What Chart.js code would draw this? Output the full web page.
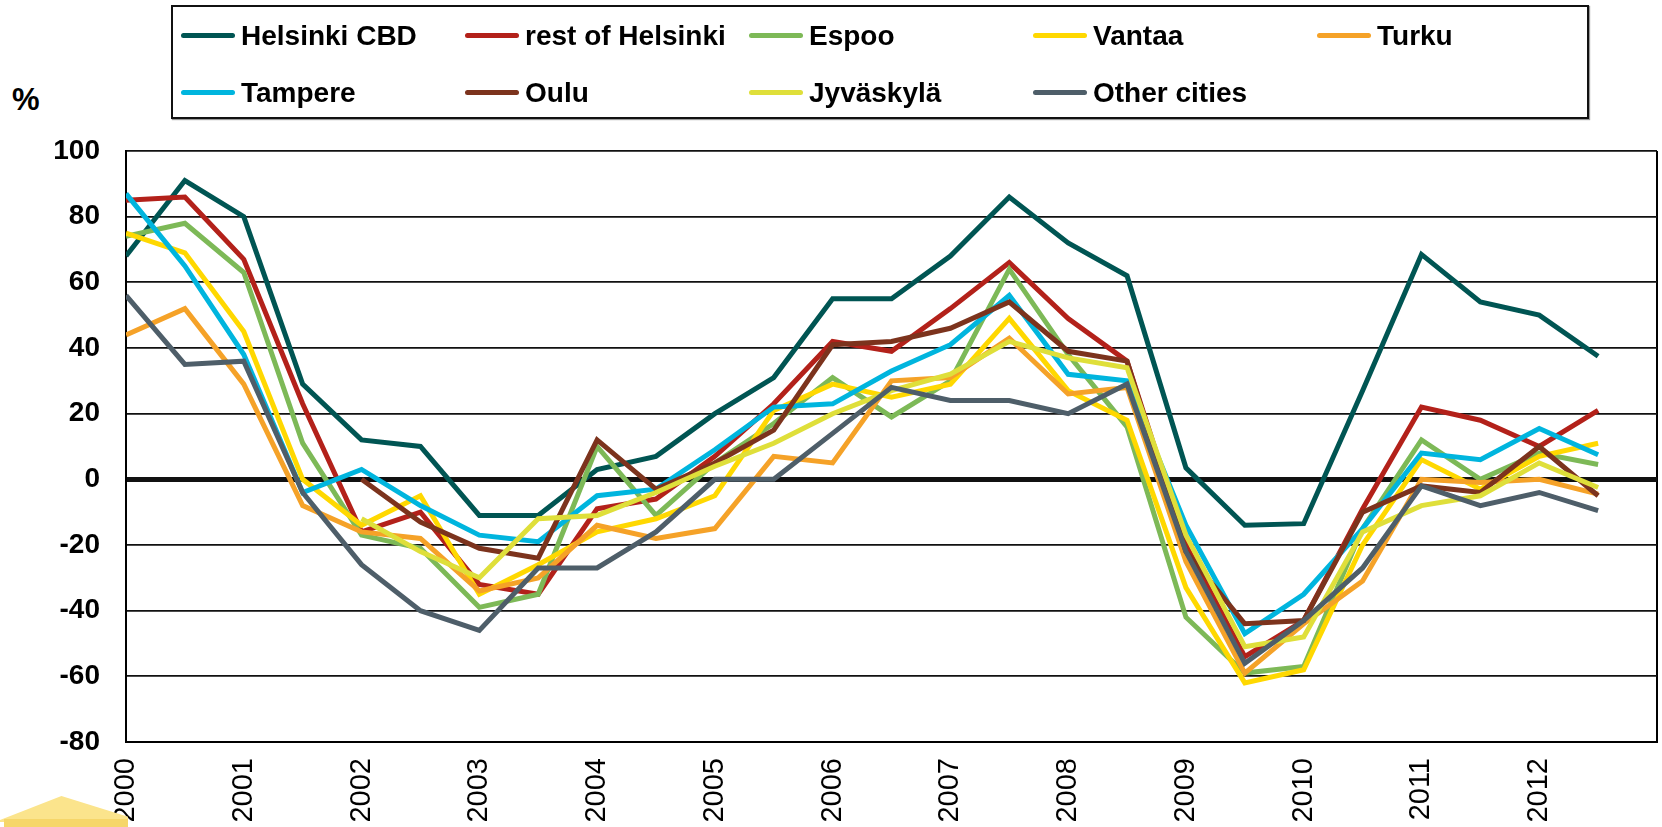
<!DOCTYPE html>
<html>
<head>
<meta charset="utf-8">
<script src="https://cdn.jsdelivr.net/npm/chart.js@4"></script>
<style>
    html, body { margin: 0; padding: 0; background: #fff; }
    body { width: 1662px; height: 827px; position: relative; overflow: hidden; font-family: 'Liberation Sans', Arial, sans-serif; }
    #chartWrap { position: absolute; left: 0; top: 0; width: 1662px; height: 827px; }
    #legend {
        position: absolute; left: 171px; top: 5px; width: 1406px; height: 110px;
        border: 2px solid #111; box-shadow: 1px 1px 1px #999;
        display: grid; grid-template-columns: repeat(5, 284px); grid-auto-rows: 57px;
        padding-left: 8px; box-sizing: content-box;
    }
    .item { display: flex; align-items: center; font-weight: bold; font-size: 28px; color: #000; white-space: nowrap; }
    .swatch { width: 54px; height: 5px; border-radius: 3px; margin-right: 6px; flex: none; }
    #pct { position: absolute; left: 12px; top: 82px; font-size: 31px; font-weight: bold; }
    #logoTop { position: absolute; left: 0; top: 796px; width: 128px; height: 26px; background: #fbe48c;
        clip-path: polygon(0 92%, 48% 0, 100% 80%, 100% 100%, 0 100%); }
    #logoFront { position: absolute; left: 4px; top: 819px; width: 124px; height: 8px; background: #f6d669; }
</style>
</head>
<body>
<div id="pct">%</div>
<div id="chartWrap"><canvas id="priceChart" width="1662" height="827"></canvas></div>
<div id="legend"></div>
<div id="logoTop"></div>
<div id="logoFront"></div>
<script>
const periods = [2000, 2000.5, 2001, 2001.5, 2002, 2002.5, 2003, 2003.5, 2004, 2004.5, 2005, 2005.5, 2006,
    2006.5, 2007, 2007.5, 2008, 2008.5, 2009, 2009.5, 2010, 2010.5, 2011, 2011.5, 2012, 2012.5];

const helsinkiCbd = [68, 91, 80, 29, 12, 10, -11, -11, 3, 7, 20, 31, 55, 55, 68, 86, 72, 62, 3.5, -14, -13.5, 27, 68.5, 54, 50, 37.5];
const restOfHelsinki = [85, 86, 67, 23, -16, -10, -32, -35, -9, -6, 7, 23, 42, 39, 52, 66, 49, 36, -20, -54, -43, -9, 22, 18, 10, 21];
const espoo = [74, 78, 63, 11, -17, -21, -39, -35, 10, -11, 5, 17, 31, 19, 30, 64, 38, 16, -42, -59, -57, -15, 12, 0, 8, 4.5];
const vantaa = [75, 69, 45, 0, -14, -5, -35, -26, -16, -12, -5, 21, 29, 25, 29, 49, 27, 18, -33, -62, -58, -20, 6, -3, 7, 11];
const turku = [44, 52, 29, -8, -16, -18, -34, -30, -14, -18, -15, 7, 5, 30, 31, 43, 26, 28, -25, -59, -44, -31, 0, -1, 0, -4.5];
const tampere = [87, 65, 38, -4, 3, -8, -17, -19, -5, -3, 9, 22, 23, 33, 41, 56, 32, 30, -14, -47, -35, -15, 8, 6, 15.5, 7.5];
const oulu = [null, null, null, null, 0, -13, -21, -24, 12, -3, 5, 15, 41, 42, 46, 54, 39, 36, -22, -44, -43, -10, -2, -4, 10, -5];
const jyvaskyla = [null, null, null, null, -12, -22, -30, -12, -11, -4, 4, 11, 20, 27, 32, 42, 37, 34, -17, -51, -48, -16, -8, -5, 5, -2.5];
const otherCities = [56, 35, 36, -4, -26, -40, -46, -27, -27, -16, 0, 0, 14, 28, 24, 24, 20, 29, -22, -56, -43, -27, -2, -8, -4, -9.5];

const yTicks = [-80, -60, -40, -20, 0, 20, 40, 60, 80, 100];

const series = [
    { label: 'Helsinki CBD', data: helsinkiCbd, color: '#005553' },
    { label: 'rest of Helsinki', data: restOfHelsinki, color: '#b3211a' },
    { label: 'Espoo', data: espoo, color: '#7db957' },
    { label: 'Vantaa', data: vantaa, color: '#ffd800' },
    { label: 'Turku', data: turku, color: '#f5a228' },
    { label: 'Tampere', data: tampere, color: '#00b5de' },
    { label: 'Oulu', data: oulu, color: '#7c331d' },
    { label: 'Jyväskylä', data: jyvaskyla, color: '#dfdf3a' },
    { label: 'Other cities', data: otherCities, color: '#4e5e69' }
];

const ctx = document.getElementById('priceChart');
const chart = new Chart(ctx, {
    type: 'line',
    data: {
        datasets: series.map((s, i) => ({
            label: s.label,
            data: periods.map((p, j) => ({ x: p, y: s.data[j] })),
            borderColor: s.color,
            backgroundColor: s.color,
            borderWidth: 5,
            pointRadius: 0,
            tension: 0,
            spanGaps: false,
            order: series.length - i
        }))
    },
    options: {
        responsive: false,
        animation: false,
        layout: { padding: { top: 151, right: 5, bottom: 0, left: 0 } },
        plugins: {
            legend: { display: false },
            tooltip: { enabled: false }
        },
        scales: {
            x: {
                type: 'linear',
                min: 2000,
                max: 2013,
                afterFit: (scale) => {
                    scale.height = 85;
                    scale.paddingLeft = 0;
                    scale.paddingRight = 0;
                },
                afterBuildTicks: (scale) => {
                    scale.ticks = [];
                    for (let y = 2000; y <= 2013; y++) scale.ticks.push({ value: y });
                },
                ticks: {
                    autoSkip: false,
                    minRotation: 90,
                    maxRotation: 90,
                    padding: 16,
                    color: '#000',
                    font: { family: "'Liberation Sans', Arial, sans-serif", size: 29 },
                    callback: (v) => v === 2013 ? '' : String(v)
                },
                grid: {
                    drawTicks: false,
                    lineWidth: 2,
                    color: (c) => c.tick && c.tick.value === 2013 ? '#000' : 'rgba(0,0,0,0)'
                },
                border: { display: true, color: '#000', width: 2 }
            },
            y: {
                min: -80,
                max: 100,
                afterFit: (scale) => { scale.width = 126; },
                afterBuildTicks: (scale) => { scale.ticks = yTicks.map(v => ({ value: v })); },
                ticks: {
                    padding: 26,
                    color: '#000',
                    font: { family: "'Liberation Sans', Arial, sans-serif", size: 28, weight: 'bold' }
                },
                grid: {
                    drawTicks: false,
                    color: '#111',
                    lineWidth: (c) => c.tick && c.tick.value === 0 ? 5 : 1.8
                },
                border: { display: true, color: '#000', width: 2 }
            }
        }
    }
});

// legend drawn as html, two rows of five columns
const legendEl = document.getElementById('legend');
series.forEach((s) => {
    const item = document.createElement('div');
    item.className = 'item';
    const sw = document.createElement('span');
    sw.className = 'swatch';
    sw.style.background = s.color;
    const txt = document.createElement('span');
    txt.textContent = s.label;
    item.appendChild(sw);
    item.appendChild(txt);
    legendEl.appendChild(item);
});
</script>
</body>
</html>
